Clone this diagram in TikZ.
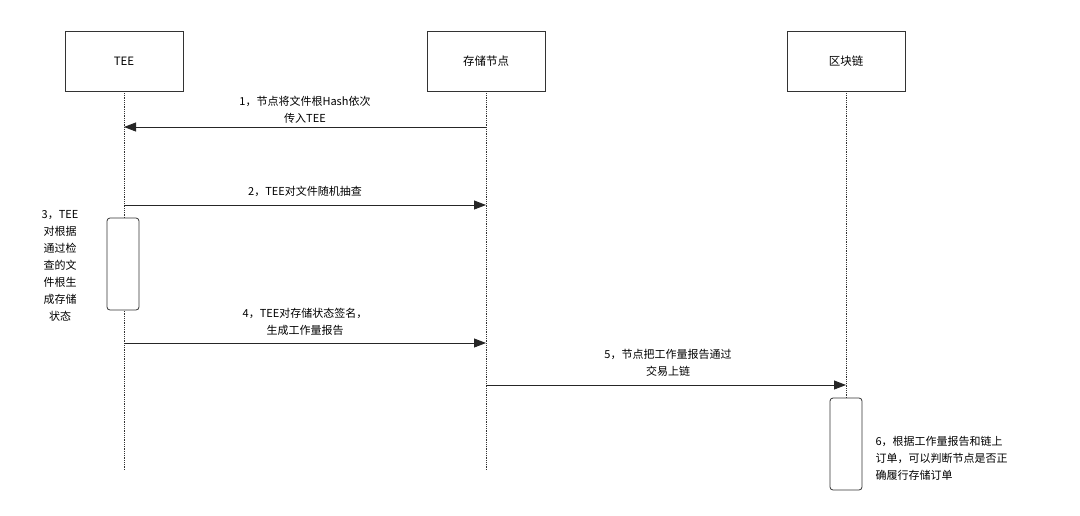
\documentclass[tikz,border=0pt]{standalone}
\usepackage{fontspec}
\setmainfont{Noto Sans CJK SC}
\usetikzlibrary{arrows.meta}
\begin{document}
\begin{tikzpicture}[x=1pt,y=-1pt,
 actor/.style={draw=black!80,fill=white,minimum width=118pt,minimum height=60pt,font=\fontsize{11.5}{13}\selectfont},
 life/.style={draw=black!80,densely dotted,line width=0.8pt},
 act/.style={draw=black!80,fill=white,rounded corners=3pt,line width=0.8pt},
 msg/.style={draw=black!85,line width=0.9pt,-{Triangle[length=12pt,width=9pt]}},
 lbl/.style={font=\fontsize{11}{17}\selectfont,align=center},
 note/.style={font=\fontsize{11}{17}\selectfont,align=left}]
\useasboundingbox (0,0) rectangle (1080,515);
\node[actor] (tee) at (124,61) {TEE};
\node[actor] (st) at (486,61) {存储节点};
\node[actor] (bc) at (846,61) {区块链};
\coordinate (teeE) at (124,470);
\coordinate (stE) at (486,470);
\draw[life] (tee.south) -- (teeE);
\draw[life] (st.south) -- (stE);
\draw[life] (bc.south) -- (bc.south |- 0,398);
\node[act,minimum width=32pt,minimum height=92pt] (a1) at (123,264) {};
\node[act,minimum width=32pt,minimum height=92pt] (a2) at (846,444) {};
\coordinate (s1) at (486,127); \coordinate (t1) at (124,127);
\draw[msg] (s1) -- (t1);
\node[lbl] (l1) at (305,110) {1，节点将文件根Hash依次\\传入TEE};
\coordinate (s2) at (124,205); \coordinate (t2) at (486,205);
\draw[msg] (s2) -- (t2);
\node[lbl] (l2) at (305,191) {2，TEE对文件随机抽查};
\coordinate (s4) at (124,343); \coordinate (t4) at (486,343);
\draw[msg] (s4) -- (t4);
\node[lbl] (l4) at (305,322) {4，TEE对存储状态签名，\\生成工作量报告};
\coordinate (s5) at (486,385); \coordinate (t5) at (846,385);
\draw[msg] (s5) -- (t5);
\node[lbl] (l5) at (668,363) {5，节点把工作量报告通过\\交易上链};
\node[note,align=center] (n3) at (60,266) {3，TEE\\对根据\\通过检\\查的文\\件根生\\成存储\\状态};
\node[note,anchor=west] (n6) at (872,458) {6，根据工作量报告和链上\\订单，可以判断节点是否正\\确履行存储订单};
\end{tikzpicture}
\end{document}
